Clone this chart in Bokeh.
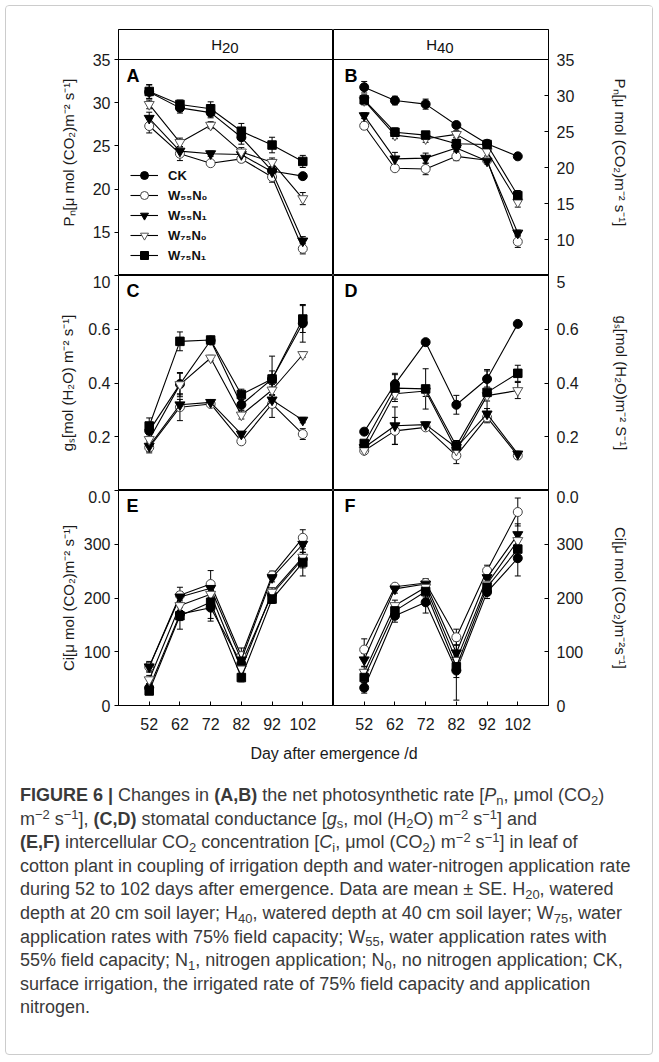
from bokeh.plotting import figure
from bokeh.layouts import column, row
from bokeh.models import (ColumnDataSource, Whisker, Span, FixedTicker,
                          Legend, LegendItem, Div, Range1d)
from bokeh.embed import file_html
from bokeh.resources import INLINE
from bokeh.core.properties import value

# ---------------- data ----------------
days = [52, 62, 72, 82, 92, 102]
day_labels = ["52", "62", "72", "82", "92", "102"]

series_names = ["CK", "W55N0", "W55N1", "W75N0", "W75N1"]
legend_labels = ["CK", "W₅₅N₀", "W₅₅N₁", "W₇₅N₀", "W₇₅N₁"]

# Panel A : H20, Pn
A_CK = [31.25, 29.4, 28.85, 26.0, 22.1, 21.5]
A_W55N0 = [27.3, 24.1, 23.0, 23.5, 21.4, 13.1]
A_W55N1 = [28.2, 24.4, 24.1, 24.0, 22.0, 14.0]
A_W75N0 = [29.8, 25.4, 27.4, 24.3, 23.1, 18.9]
A_W75N1 = [31.3, 29.8, 29.3, 26.7, 25.1, 23.2]
A_SE_CK = [0.8, 0.6, 0.6, 0.8, 0.5, 0.3]
A_SE_W55N0 = [0.8, 0.8, 0.3, 0.4, 0.6, 0.6]
A_SE_W55N1 = [0.7, 0.5, 0.3, 0.4, 0.5, 0.5]
A_SE_W75N0 = [0.5, 0.5, 0.4, 0.5, 0.5, 0.7]
A_SE_W75N1 = [0.8, 0.5, 0.8, 0.9, 0.9, 0.7]

# Panel B : H40, Pn
B_CK = [31.15, 29.3, 28.8, 25.9, 23.3, 21.55]
B_W55N0 = [25.8, 19.9, 19.8, 21.55, 21.0, 9.7]
B_W55N1 = [27.2, 21.2, 21.3, 22.7, 20.9, 10.9]
B_W75N0 = [29.3, 24.5, 24.0, 24.6, 22.2, 15.2]
B_W75N1 = [29.4, 24.9, 24.5, 23.3, 23.2, 16.1]
B_SE_CK = [0.8, 0.6, 0.7, 0.4, 0.5, 0.3]
B_SE_W55N0 = [0.5, 0.4, 0.8, 0.6, 0.4, 0.8]
B_SE_W55N1 = [0.4, 0.9, 0.7, 0.5, 0.4, 0.4]
B_SE_W75N0 = [0.5, 0.5, 0.5, 0.5, 0.6, 0.7]
B_SE_W75N1 = [0.7, 0.6, 0.5, 0.9, 0.5, 0.7]

# Panel C : H20, gs
C_CK = [0.222, 0.396, 0.558, 0.319, 0.415, 0.622]
C_W55N0 = [0.16, 0.31, 0.322, 0.183, 0.322, 0.21]
C_W55N1 = [0.165, 0.319, 0.328, 0.21, 0.337, 0.262]
C_W75N0 = [0.19, 0.394, 0.493, 0.281, 0.374, 0.506]
C_W75N1 = [0.24, 0.555, 0.56, 0.357, 0.415, 0.638]
C_SE_CK = [0.02, 0.04, 0.01, 0.02, 0.03, 0.07]
C_SE_W55N0 = [0.02, 0.05, 0.01, 0.01, 0.05, 0.02]
C_SE_W55N1 = [0.02, 0.02, 0.01, 0.01, 0.02, 0.01]
C_SE_W75N0 = [0.02, 0.045, 0.01, 0.015, 0.02, 0.01]
C_SE_W75N1 = [0.03, 0.035, 0.01, 0.02, 0.085, 0.05]

# Panel D : H40, gs
D_CK = [0.219, 0.396, 0.552, 0.319, 0.415, 0.62]
D_W55N0 = [0.148, 0.222, 0.235, 0.13, 0.272, 0.13]
D_W55N1 = [0.16, 0.241, 0.245, 0.16, 0.285, 0.136]
D_W75N0 = [0.15, 0.36, 0.37, 0.15, 0.353, 0.372]
D_W75N1 = [0.175, 0.381, 0.378, 0.166, 0.365, 0.436]
D_SE_CK = [0.01, 0.04, 0.01, 0.035, 0.03, 0.01]
D_SE_W55N0 = [0.01, 0.05, 0.01, 0.03, 0.02, 0.01]
D_SE_W55N1 = [0.01, 0.07, 0.01, 0.02, 0.02, 0.01]
D_SE_W75N0 = [0.01, 0.02, 0.02, 0.02, 0.02, 0.03]
D_SE_W75N1 = [0.01, 0.05, 0.075, 0.02, 0.085, 0.03]

# Panel E : H20, Ci
E_CK = [33, 170, 182, 78, 207, 273]
E_W55N0 = [72, 205, 226, 92, 242, 312]
E_W55N1 = [72, 202, 218, 85, 238, 300]
E_W75N0 = [48, 186, 207, 68, 211, 276]
E_W75N1 = [27, 167, 192, 52, 198, 266]
E_SE_CK = [8, 12, 20, 8, 8, 12]
E_SE_W55N0 = [8, 15, 25, 15, 8, 15]
E_SE_W55N1 = [10, 10, 10, 10, 8, 15]
E_SE_W75N0 = [8, 10, 15, 10, 8, 20]
E_SE_W75N1 = [6, 25, 35, 8, 8, 25]

# Panel F : H40, Ci
F_CK = [33, 167, 192, 65, 211, 274]
F_W55N0 = [104, 221, 228, 127, 251, 360]
F_W55N1 = [85, 217, 226, 98, 238, 318]
F_W75N0 = [62, 186, 220, 84, 226, 307]
F_W75N1 = [52, 176, 212, 72, 220, 291]
F_SE_CK = [10, 12, 20, 55, 12, 33]
F_SE_W55N0 = [20, 5, 8, 15, 10, 26]
F_SE_W55N1 = [12, 8, 8, 15, 12, 20]
F_SE_W75N0 = [10, 10, 10, 15, 10, 15]
F_SE_W75N1 = [10, 12, 10, 20, 15, 15]

# axes: ranges, ticks and tick labels
x_range_days = (42, 112)
pn_left_range = (10, 35)
pn_left_ticks = [10, 15, 20, 25, 30, 35]
pn_left_labels = ["10", "15", "20", "25", "30", "35"]
pn_right_range = (5, 35)
pn_right_ticks = [5, 10, 15, 20, 25, 30, 35]
pn_right_labels = ["5", "10", "15", "20", "25", "30", "35"]
gs_range = (0.0, 0.8)
gs_ticks = [0.0, 0.2, 0.4, 0.6]
gs_labels = ["0.0", "0.2", "0.4", "0.6"]
ci_range = (0, 400)
ci_ticks = [0, 100, 200, 300]
ci_labels = ["0", "100", "200", "300"]

headers = ["H", "20"], ["H", "40"]
panel_letters = [["A", "B"], ["C", "D"], ["E", "F"]]

label_pn = "Pₙ[μ mol (CO₂)m⁻² s⁻¹]"
label_gs_left = "gₛ[mol (H₂O) m⁻² s⁻¹]"
label_gs_right = "gₛ[mol (H₂O)m⁻² S⁻¹]"
label_ci_left = "Ci[μ mol (CO₂)m⁻² s⁻¹]"
label_ci_right = "Ci[μ mol (CO₂)m⁻²s⁻¹]"
x_title = "Day after emergence /d"

# ---------------- layout constants ----------------
LEFT_B, RIGHT_B, FRAME_W = 112, 104, 215
TOP_B, HEADER_H = 23, 30
ROW_H = [216, 215, 215]
BOTTOM_B = 32
FONT = "Liberation Sans"

styles = {
    "CK": dict(marker="circle", fill_color="black", line_color="black", size=9),
    "W55N0": dict(marker="circle", fill_color="white", line_color="#444444", size=9),
    "W55N1": dict(marker="inverted_triangle", fill_color="black", line_color="black", size=10),
    "W75N0": dict(marker="inverted_triangle", fill_color="white", line_color="#555555", size=10),
    "W75N1": dict(marker="square", fill_color="black", line_color="black", size=8.5),
}

panels = [
    [dict(vals=[A_CK, A_W55N0, A_W55N1, A_W75N0, A_W75N1],
          se=[A_SE_CK, A_SE_W55N0, A_SE_W55N1, A_SE_W75N0, A_SE_W75N1],
          yr=pn_left_range, ticks=pn_left_ticks, labels=pn_left_labels,
          axis_label=label_pn, label_standoff=13),
     dict(vals=[B_CK, B_W55N0, B_W55N1, B_W75N0, B_W75N1],
          se=[B_SE_CK, B_SE_W55N0, B_SE_W55N1, B_SE_W75N0, B_SE_W75N1],
          yr=pn_right_range, ticks=pn_right_ticks, labels=pn_right_labels,
          axis_label=label_pn, label_standoff=35)],
    [dict(vals=[C_CK, C_W55N0, C_W55N1, C_W75N0, C_W75N1],
          se=[C_SE_CK, C_SE_W55N0, C_SE_W55N1, C_SE_W75N0, C_SE_W75N1],
          yr=gs_range, ticks=gs_ticks, labels=gs_labels,
          axis_label=label_gs_left, label_standoff=9),
     dict(vals=[D_CK, D_W55N0, D_W55N1, D_W75N0, D_W75N1],
          se=[D_SE_CK, D_SE_W55N0, D_SE_W55N1, D_SE_W75N0, D_SE_W75N1],
          yr=gs_range, ticks=gs_ticks, labels=gs_labels,
          axis_label=label_gs_right, label_standoff=31)],
    [dict(vals=[E_CK, E_W55N0, E_W55N1, E_W75N0, E_W75N1],
          se=[E_SE_CK, E_SE_W55N0, E_SE_W55N1, E_SE_W75N0, E_SE_W75N1],
          yr=ci_range, ticks=ci_ticks, labels=ci_labels,
          axis_label=label_ci_left, label_standoff=4),
     dict(vals=[F_CK, F_W55N0, F_W55N1, F_W75N0, F_W75N1],
          se=[F_SE_CK, F_SE_W55N0, F_SE_W55N1, F_SE_W75N0, F_SE_W75N1],
          yr=ci_range, ticks=ci_ticks, labels=ci_labels,
          axis_label=label_ci_right, label_standoff=26)],
]

figs = [[None, None], [None, None], [None, None]]

for r in range(3):
    for c in range(2):
        spec = panels[r][c]
        left = c == 0
        top = r == 0
        bottom = r == 2
        y0, y1 = spec["yr"]
        frame_h = ROW_H[r]
        y_end = y1
        if top:
            # header band sits above the panel inside the same frame
            y_end = y1 + (y1 - y0) * HEADER_H / ROW_H[r]
            frame_h = ROW_H[r] + HEADER_H
        w = (LEFT_B if left else 0) + FRAME_W + (0 if left else RIGHT_B)
        h = (TOP_B if top else 0) + frame_h + (BOTTOM_B if bottom else 0)
        p = figure(width=w, height=h,
                   x_range=Range1d(*x_range_days), y_range=Range1d(y0, y_end),
                   toolbar_location=None, output_backend="svg",
                   x_axis_location="below" if bottom else None,
                   y_axis_location="left" if left else "right",
                   min_border_left=LEFT_B if left else 0,
                   min_border_right=0 if left else RIGHT_B,
                   min_border_top=TOP_B if top else 0,
                   min_border_bottom=BOTTOM_B if bottom else 0,
                   background_fill_color="white", border_fill_color="white",
                   outline_line_color="black", outline_line_width=1)
        p.grid.grid_line_color = None

        # y axis
        ax = p.yaxis[0]
        ticks = list(spec["ticks"])
        overrides = {t: lab for t, lab in zip(spec["ticks"], spec["labels"])}
        if not bottom:
            # lowest label is drawn by the panel below (its top edge)
            overrides[spec["ticks"][0]] = ""
        if not top:
            # the top edge carries the label of the panel above
            above = panels[r - 1][c]
            ticks.append(y1)
            overrides[y1] = above["labels"][0]
        ax.ticker = FixedTicker(ticks=ticks)
        ax.major_label_overrides = overrides
        ax.minor_tick_line_color = None
        ax.axis_line_color = "black"
        ax.major_tick_line_color = "black"
        if left:
            ax.major_tick_out, ax.major_tick_in = 4, 0
            ax.major_label_standoff = 4
        else:
            ax.major_tick_out, ax.major_tick_in = 0, 4
            ax.major_label_standoff = 8
        ax.major_label_text_font = FONT
        ax.major_label_text_font_size = "16px"
        ax.major_label_text_color = "#1a1a1a"
        ax.axis_label = spec["axis_label"]
        ax.axis_label_text_font = FONT
        ax.axis_label_text_font_size = "15px"
        ax.axis_label_text_font_style = "normal"
        ax.axis_label_text_color = "#1a1a1a"
        ax.axis_label_standoff = spec["label_standoff"]

        if bottom:
            xa = p.xaxis[0]
            xa.ticker = FixedTicker(ticks=days)
            xa.major_label_overrides = {d: s for d, s in zip(days, day_labels)}
            xa.minor_tick_line_color = None
            xa.major_tick_out, xa.major_tick_in = 0, 4
            xa.major_label_standoff = 12
            xa.axis_line_color = "black"
            xa.major_label_text_font = FONT
            xa.major_label_text_font_size = "16px"
            xa.major_label_text_color = "#1a1a1a"

        # error bars
        for vals, se in zip(spec["vals"], spec["se"]):
            src = ColumnDataSource(dict(x=days,
                                        upper=[v + s for v, s in zip(vals, se)],
                                        lower=[v - s for v, s in zip(vals, se)]))
            wk = Whisker(source=src, base="x", upper="upper", lower="lower",
                         line_color="black", line_width=1)
            wk.upper_head.size = 6
            wk.lower_head.size = 6
            wk.upper_head.line_color = "black"
            wk.lower_head.line_color = "black"
            p.add_layout(wk)

        items = []
        for name, lab, vals in zip(series_names, legend_labels, spec["vals"]):
            st = styles[name]
            lr = p.line(days, vals, line_color="black", line_width=1.1)
            sr = p.scatter(days, vals, marker=st["marker"], size=st["size"],
                           fill_color=st["fill_color"], line_color=st["line_color"],
                           line_width=1)
            items.append(LegendItem(label=lab, renderers=[lr, sr]))

        if r == 0 and c == 0:
            leg = Legend(items=items, location=(12, 10), orientation="vertical",
                         padding=0, margin=0, spacing=0,
                         glyph_width=28, glyph_height=20, label_height=20,
                         label_standoff=10, background_fill_alpha=0,
                         border_line_color=None,
                         label_text_font=FONT, label_text_font_size="13px",
                         label_text_font_style="bold", label_text_color="#111111")
            p.add_layout(leg)

        xmid = (x_range_days[0] + x_range_days[1]) / 2
        if top:
            p.add_layout(Span(location=y1, dimension="width",
                              line_color="black", line_width=1))
            hy = (y1 + y_end) / 2
            hmain, hsub = headers[c]
            p.text(x=[xmid], y=[hy], text=[hmain], text_align="right",
                   text_baseline="middle", x_offset=-4, y_offset=0,
                   text_font=value(FONT), text_font_size="15px", text_color="#111111")
            p.text(x=[xmid], y=[hy], text=[hsub], text_align="left",
                   text_baseline="middle", x_offset=-4, y_offset=3,
                   text_font=value(FONT), text_font_size="15px", text_color="#111111")

        p.text(x=[x_range_days[0]], y=[y1], text=[panel_letters[r][c]],
               text_align="left", text_baseline="top",
               x_offset=8 if left else 11, y_offset=6 if top else 5,
               text_font=value(FONT), text_font_size="18px",
               text_font_style="bold", text_color="black")
        figs[r][c] = p

grid = column(row(figs[0][0], figs[0][1]),
              row(figs[1][0], figs[1][1]),
              row(figs[2][0], figs[2][1]))

title_div = Div(text=(f'<div style="margin-left:22px;width:612px;text-align:center;'
                      f'font-family:{FONT};font-size:16px;color:#1a1a1a;padding-top:6px;'
                      f'white-space:nowrap">{x_title}</div>'),
                width=646, height=35, margin=0)


def sub(s):
    return (f'<span style="font-size:0.72em;position:relative;top:0.28em;'
            f'line-height:0">{s}</span>')


def sup(s):
    return (f'<span style="font-size:0.72em;position:relative;top:-0.45em;'
            f'line-height:0">{s}</span>')


cap_lines = [
    f'<b>FIGURE 6 |</b> Changes in <b>(A,B)</b> the net photosynthetic rate [<i>P</i>{sub("n")}, μmol (CO{sub("2")})',
    f'm{sup("−2")} s{sup("−1")}], <b>(C,D)</b> stomatal conductance [<i>g</i>{sub("s")}, mol (H{sub("2")}O) m{sup("−2")} s{sup("−1")}] and',
    f'<b>(E,F)</b> intercellular CO{sub("2")} concentration [<i>C</i>{sub("i")}, μmol (CO{sub("2")}) m{sup("−2")} s{sup("−1")}] in leaf of',
    'cotton plant in coupling of irrigation depth and water-nitrogen application rate',
    f'during 52 to 102 days after emergence. Data are mean ± SE. H{sub("20")}, watered',
    f'depth at 20 cm soil layer; H{sub("40")}, watered depth at 40 cm soil layer; W{sub("75")}, water',
    f'application rates with 75% field capacity; W{sub("55")}, water application rates with',
    f'55% field capacity; N{sub("1")}, nitrogen application; N{sub("0")}, no nitrogen application; CK,',
    'surface irrigation, the irrigated rate of 75% field capacity and application',
    'nitrogen.',
]

caption_div = Div(text=(f'<div style="padding:12px 0 0 14px;font-family:{FONT};'
                        f'font-size:18px;line-height:23.6px;color:#3a3a3a;'
                        f'white-space:nowrap">' + "<br>".join(cap_lines) + '</div>'),
                  width=646, height=282, margin=0)

layout = column(grid, title_div, caption_div,
                styles={"border": "1px solid #cccccc", "border-radius": "4px",
                        "margin-left": "5px", "margin-top": "5px"})

open("out.html", "w").write(file_html(layout, INLINE))
